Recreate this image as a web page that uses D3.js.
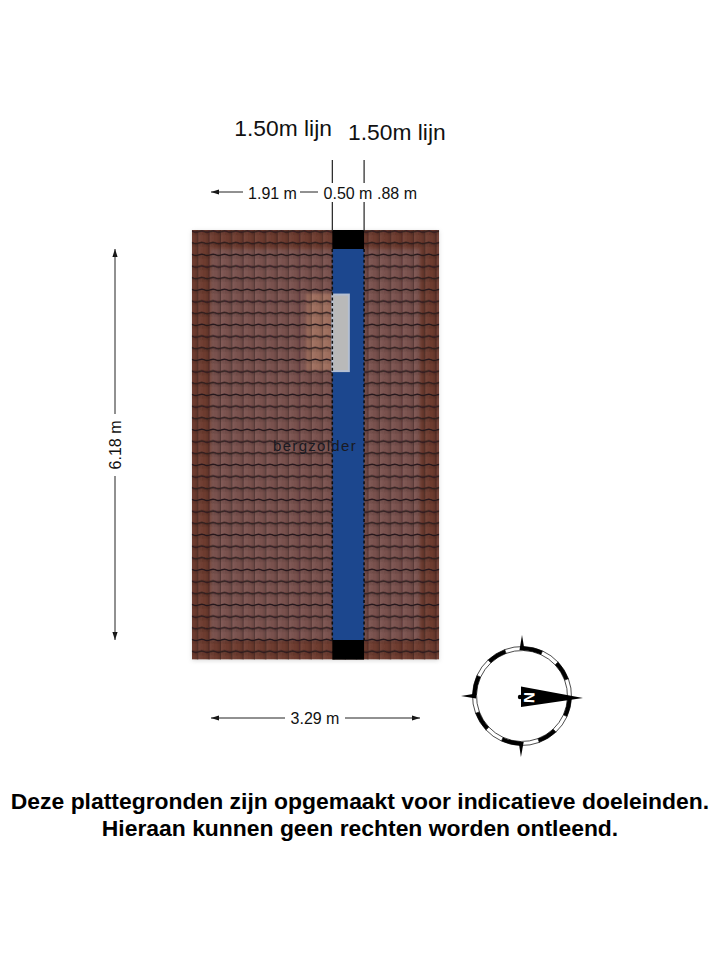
<!DOCTYPE html>
<html>
<head>
<meta charset="utf-8">
<script src="https://cdn.jsdelivr.net/npm/d3@7"></script>
<style>
html,body{margin:0;padding:0;background:#fff;}
svg{display:block;}
text{font-family:"Liberation Sans",Arial,sans-serif;fill:#111;}
</style>
</head>
<body>
<div id="plan"></div>
<script>
// all plan values are in metres
var widthTotal = 3.29;
var depthTotal = 6.18;
var roofX = [-0.30, 3.59];
var roofY = [-0.30, 6.49];
var innerX = [0, 3.29];
var innerY = [0, 6.18];
var ridgeX = [1.91, 2.41];
var dormerX = [1.50, 1.91];
var dormerY = [0.70, 1.93];
var windowX = [1.91, 2.17];
var windowY = [0.72, 1.93];
var lineLabels = ["1.50m lijn", "1.50m lijn"];
var widthLabels = ["1.91 m", "0.50 m", ".88 m"];
var roomName = "bergzolder";
var totalWidthLabel = "3.29 m";
var totalDepthLabel = "6.18 m";
var footerLines = [
  "Deze plattegronden zijn opgemaakt voor indicatieve doeleinden.",
  "Hieraan kunnen geen rechten worden ontleend."
];
// compass ring, sixteen equal parts, black first
var ringParts = [1,1,1,1,1,1,1,1,1,1,1,1,1,1,1,1];
var spikeAngles = [0, 181, 270];

var x = d3.scaleLinear().domain([0, widthTotal]).range([211, 420]);
var y = d3.scaleLinear().domain([0, depthTotal]).range([249, 640]);

var svg = d3.select("#plan").append("svg").attr("width", 720).attr("height", 960);
var defs = svg.append("defs");

defs.append("filter").attr("id", "soft").append("feGaussianBlur").attr("stdDeviation", 0.4);
defs.append("filter").attr("id", "shadow").append("feGaussianBlur").attr("stdDeviation", 2);
defs.append("filter").attr("id", "zone").append("feGaussianBlur").attr("stdDeviation", 1.6);

var shade = defs.append("linearGradient").attr("id", "tileShade");
shade.append("stop").attr("offset", "0").attr("stop-color", "#fff").attr("stop-opacity", 0.05);
shade.append("stop").attr("offset", "0.6").attr("stop-color", "#000").attr("stop-opacity", 0.02);
shade.append("stop").attr("offset", "1").attr("stop-color", "#000").attr("stop-opacity", 0.2);

var tileW = 11.35, tileH = 11.67;
var tile = defs.append("pattern").attr("id", "tiles")
  .attr("patternUnits", "userSpaceOnUse")
  .attr("x", 186.95).attr("y", 230.6)
  .attr("width", tileW).attr("height", tileH);
tile.append("rect").attr("width", tileW).attr("height", tileH).attr("fill", "url(#tileShade)");
tile.append("rect").attr("y", 1).attr("width", tileW).attr("height", 3.5)
  .attr("fill", "#000").attr("opacity", 0.08);
tile.append("line").attr("x1", tileW - 0.4).attr("x2", tileW - 0.4).attr("y1", 0).attr("y2", tileH)
  .attr("stroke", "#3a2226").attr("stroke-width", 0.8).attr("opacity", 0.4);
tile.append("path")
  .attr("d", "M0,1.1 Q2.8,-0.2 5.6,0.6 Q8.5,2.1 11.35,1.1")
  .attr("fill", "none").attr("stroke", "#24161a").attr("stroke-width", 1.35);
tile.append("path")
  .attr("d", "M0,12.77 Q2.8,11.47 5.6,12.27 Q8.5,13.77 11.35,12.77")
  .attr("fill", "none").attr("stroke", "#24161a").attr("stroke-width", 1.35);

function box(g, xs, ys) {
  return g.append("rect")
    .attr("x", x(xs[0])).attr("y", y(ys[0]))
    .attr("width", x(xs[1]) - x(xs[0]))
    .attr("height", y(ys[1]) - y(ys[0]));
}

box(svg, roofX, roofY).attr("fill", "#999").attr("opacity", 0.35)
  .attr("transform", "translate(0,1)").attr("filter", "url(#shadow)");

defs.append("clipPath").attr("id", "roofClip")
  .append("rect").attr("x", x(roofX[0])).attr("y", y(roofY[0]))
  .attr("width", x(roofX[1]) - x(roofX[0])).attr("height", y(roofY[1]) - y(roofY[0]));

var base = svg.append("g").attr("clip-path", "url(#roofClip)");
box(base, roofX, roofY).attr("fill", "#703d30");
box(base, innerX, innerY).attr("fill", "#7c5250").attr("filter", "url(#zone)");
box(base, dormerX, dormerY).attr("fill", "#a0705e").attr("filter", "url(#zone)");

var roof = svg.append("g").attr("filter", "url(#soft)");
box(roof, roofX, roofY).attr("fill", "url(#tiles)");

box(roof, ridgeX, innerY).attr("fill", "#1d478e");
box(roof, ridgeX, [roofY[0], innerY[0]]).attr("fill", "#000");
box(roof, ridgeX, [innerY[1], roofY[1]]).attr("fill", "#000");
box(roof, windowX, windowY).attr("fill", "#b9b9b9").attr("stroke", "#b4bfd2").attr("stroke-width", 2);

roof.selectAll("line.ridge").data(ridgeX).enter().append("line")
  .attr("class", "ridge")
  .attr("x1", function(d){ return x(d); }).attr("x2", function(d){ return x(d); })
  .attr("y1", y(innerY[0])).attr("y2", y(innerY[1]))
  .attr("stroke", "#0c0c0c").attr("stroke-width", 1.5).attr("stroke-dasharray", "3,2.4");

// dimension lines
function arrow(px, py, dir) {
  // dir is the rotation of a head that points left
  svg.append("path").attr("d", "M0,0 L8,-2.6 L8,2.6 Z").attr("fill", "#111")
    .attr("transform", "translate(" + px + "," + py + ") rotate(" + dir + ")");
}
function seg(x1, y1, x2, y2, w) {
  svg.append("line").attr("x1", x1).attr("y1", y1).attr("x2", x2).attr("y2", y2)
    .attr("stroke", "#222").attr("stroke-width", w || 1);
}

ridgeX.forEach(function(d){
  seg(x(d), 160, x(d), 183, 1.2);
  seg(x(d), 202, x(d), y(roofY[0]) + 1, 1.2);
});
svg.selectAll("text.line").data(lineLabels).enter().append("text")
  .attr("class", "line")
  .attr("x", function(d, i){ return x(ridgeX[i]) + (i ? -16 : -98); })
  .attr("y", function(d, i){ return i ? 140 : 136; })
  .attr("font-size", 22.8)
  .text(function(d){ return d; });

arrow(x(0), 192, 0);
seg(x(0), 192, 243, 192);
seg(300, 192, 318, 192);
var widthX = [272.5, 348, 397];
svg.selectAll("text.dim").data(widthLabels).enter().append("text")
  .attr("class", "dim")
  .attr("x", function(d, i){ return widthX[i]; })
  .attr("y", 199)
  .attr("text-anchor", "middle").attr("font-size", 16)
  .text(function(d){ return d; });

// total width
arrow(x(0), 718, 0);
arrow(x(widthTotal), 718, 180);
seg(x(0), 718, 285, 718);
seg(345, 718, x(widthTotal), 718);
svg.append("text").attr("x", 315).attr("y", 724)
  .attr("text-anchor", "middle").attr("font-size", 16).text(totalWidthLabel);

// total depth
arrow(115, y(0), 90);
arrow(115, y(depthTotal), 270);
seg(115, y(0), 115, 414);
seg(115, 476, 115, y(depthTotal));
svg.append("text").attr("transform", "translate(121,445) rotate(-90)")
  .attr("text-anchor", "middle").attr("font-size", 16).text(totalDepthLabel);

svg.append("text").attr("x", 315).attr("y", 451)
  .attr("text-anchor", "middle").attr("font-size", 15).attr("letter-spacing", 1.3)
  .style("fill", "#1a1a22").text(roomName);

// compass
var compass = svg.append("g").attr("transform", "translate(522,696)");
var pie = d3.pie().sort(null).startAngle(Math.PI / 90).endAngle(2 * Math.PI + Math.PI / 90);
var ringArc = d3.arc().innerRadius(45.5).outerRadius(49.5);
compass.selectAll("path.part").data(pie(ringParts)).enter().append("path")
  .attr("class", "part")
  .attr("d", ringArc)
  .attr("fill", function(d, i){ return i % 2 ? "#fff" : "#000"; })
  .attr("stroke", "#000").attr("stroke-width", 0.7);
compass.selectAll("path.spike").data(spikeAngles).enter().append("path")
  .attr("class", "spike")
  .attr("d", "M-2.5,-46 L0,-61 L2.5,-46 Z")
  .attr("transform", function(d){ return "rotate(" + d + ")"; })
  .attr("fill", "#000");
compass.append("circle").attr("cx", -2).attr("cy", 1).attr("r", 2.2).attr("fill", "#000");
compass.append("path").attr("d", "M-1,-9.5 L61,2 L-1,11 Z").attr("fill", "#000");
compass.append("text").attr("transform", "translate(2,1.5) rotate(92)")
  .attr("text-anchor", "middle").attr("font-size", 15).attr("font-weight", "bold")
  .style("fill", "#fff").text("N");

svg.selectAll("text.foot").data(footerLines).enter().append("text")
  .attr("class", "foot")
  .attr("x", 360)
  .attr("y", function(d, i){ return 808.5 + i * 27; })
  .attr("text-anchor", "middle").attr("font-size", 22.9).attr("font-weight", "bold")
  .style("fill", "#000")
  .text(function(d){ return d; });
</script>
</body>
</html>
